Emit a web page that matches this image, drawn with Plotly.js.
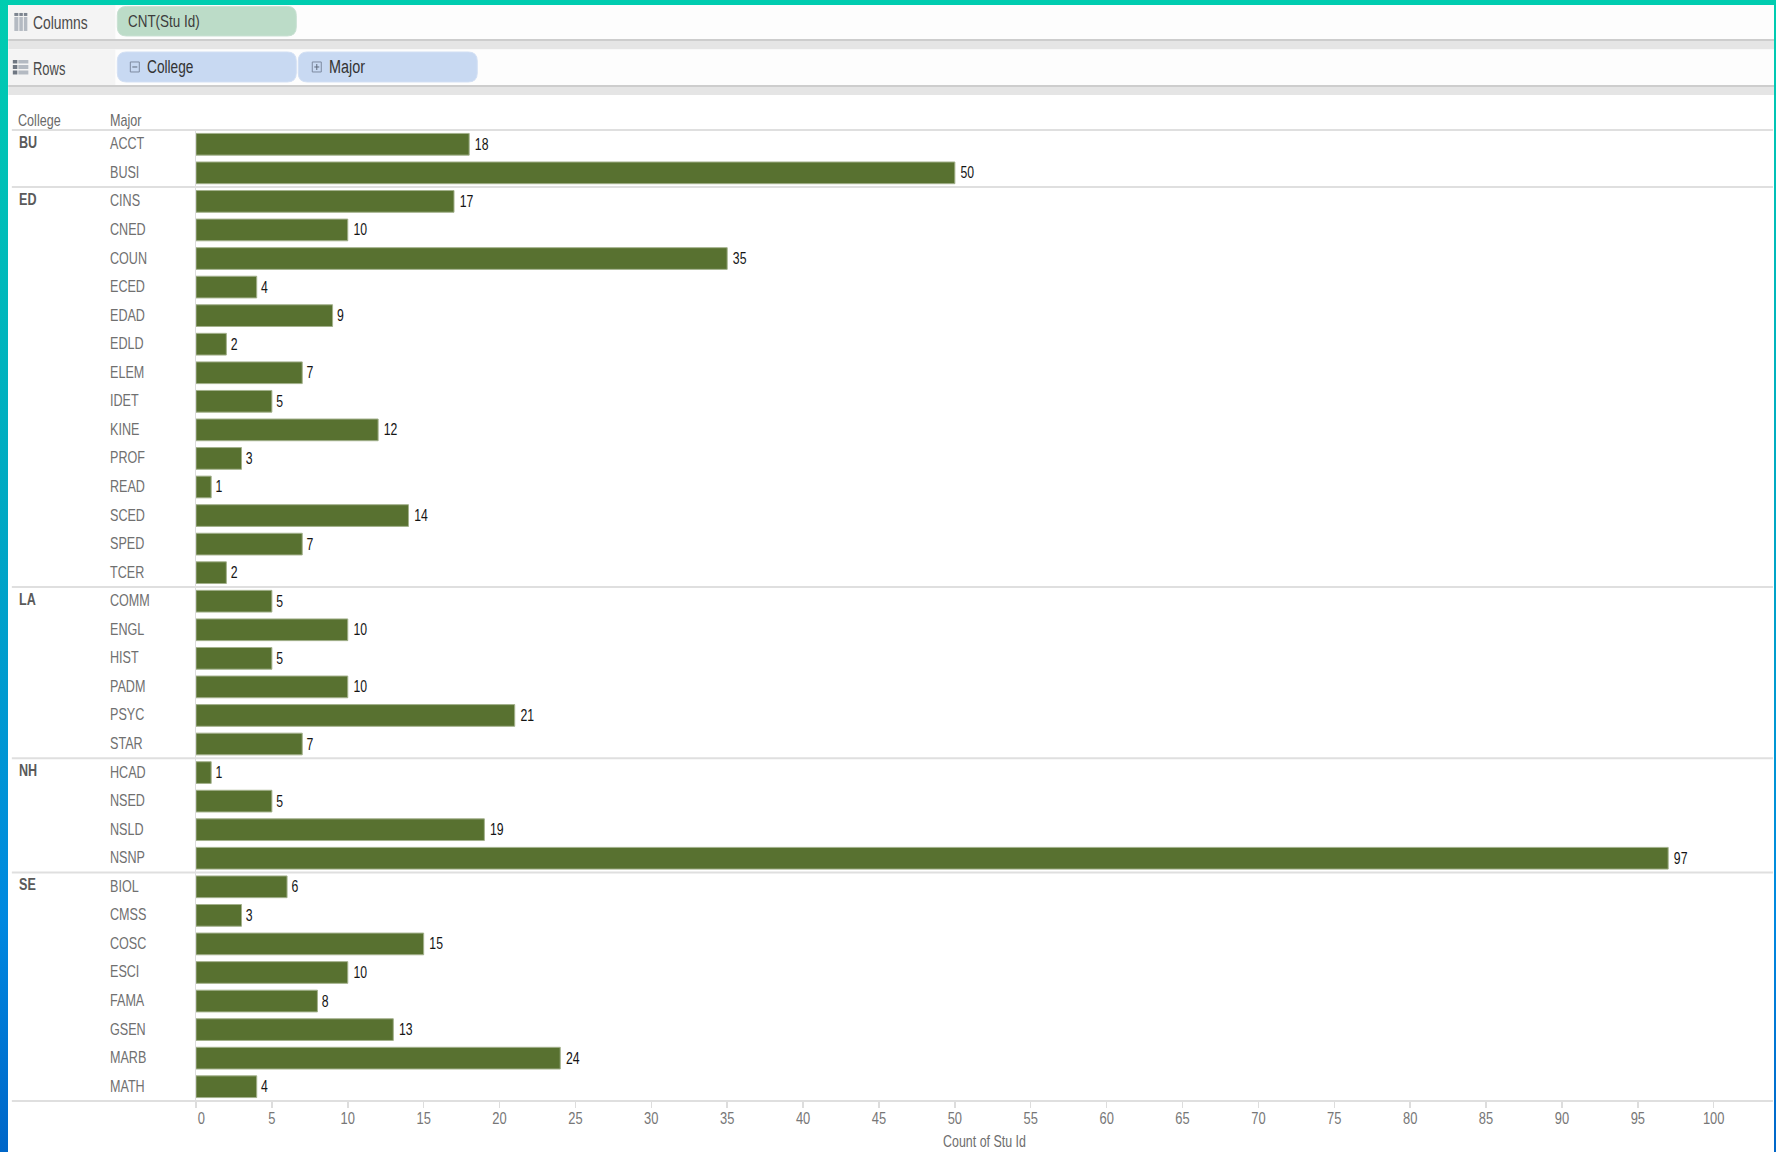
<!DOCTYPE html>
<html><head><meta charset="utf-8">
<script src="https://cdn.plot.ly/plotly-3.0.1.min.js"></script>
<style>
html,body{margin:0;padding:0;width:1776px;height:1152px;overflow:hidden;background:linear-gradient(180deg,#00cdb0 0%,#00a8c4 45%,#0088e0 80%,#0066c8 100%);}
#chart{position:absolute;left:8px;top:5px;width:1766px;height:1147px;}
</style></head><body><div id="chart"></div>
<script>
const collegeNames = ['BU','ED','LA','NH','SE'];
const collegeSizes = [2,14,6,4,8];
const majors = ['ACCT','BUSI','CINS','CNED','COUN','ECED','EDAD','EDLD','ELEM','IDET','KINE','PROF','READ','SCED','SPED','TCER','COMM','ENGL','HIST','PADM','PSYC','STAR','HCAD','NSED','NSLD','NSNP','BIOL','CMSS','COSC','ESCI','FAMA','GSEN','MARB','MATH'];
const counts = [18,50,17,10,35,4,9,2,7,5,12,3,1,14,7,2,5,10,5,10,21,7,1,5,19,97,6,3,15,10,8,13,24,4];
const xTicks = [0,5,10,15,20,25,30,35,40,45,50,55,60,65,70,75,80,85,90,95,100];

const FONT = '"Liberation Sans",Arial,sans-serif';
const OX = 8, OY = 5, W = 1766, H = 1147;
const L = 195.7, R = 1773, T = 130, B = 1100.7, PXU = 15.18;
const fx = p => (p - L) / (R - L);
const fy = p => (B - p) / (B - T);
function rect(x0,y0,x1,y1,fill){return {type:'rect',xref:'paper',yref:'paper',x0:fx(x0),x1:fx(x1),y0:fy(y0),y1:fy(y1),fillcolor:fill,line:{width:0},layer:'below'};}
function pill(x0,y0,x1,y1,r,fill,stroke){
  const P=(x,y)=>fx(x)+','+fy(y);
  return {type:'path',xref:'paper',yref:'paper',layer:'below',fillcolor:fill,line:{color:stroke,width:1},
    path:'M '+P(x0+r,y0)+' L '+P(x1-r,y0)+' Q '+P(x1,y0)+' '+P(x1,y0+r)+' L '+P(x1,y1-r)+' Q '+P(x1,y1)+' '+P(x1-r,y1)+' L '+P(x0+r,y1)+' Q '+P(x0,y1)+' '+P(x0,y1-r)+' L '+P(x0,y0+r)+' Q '+P(x0,y0)+' '+P(x0+r,y0)+' Z'};
}
function label(text,x,y,size,color){return {text:text,xref:'paper',yref:'paper',x:fx(x),y:fy(y),xanchor:'left',align:'left',yanchor:'middle',showarrow:false,font:{family:FONT,size:size,color:color}};}
function hline(yref,yv){return {type:'line',xref:'paper',yref:yref,x0:fx(11.5),x1:1,y0:yv,y1:yv,line:{color:'#dfdfdf',width:2},layer:'above'};}

const shapes = [
  rect(8,39,1774,49.5,'#e5e5e5'), rect(8,39,1774,41,'#cdcdcd'),
  rect(8,85,1774,95,'#e5e5e5'), rect(8,85,1774,87,'#cdcdcd'),
  rect(8,5,1774,39,'#fdfdfd'), rect(8,49.5,1774,85,'#fdfdfd'),
  rect(8,5,115,39,'#f4f4f4'), rect(8,49.5,115,85,'#f4f4f4'),
  pill(117,6.5,296,36,9,'#bcdcc8','#c8e0d2'),
  pill(117,52,296,82,9,'#c8d9f2','#d3e0f4'),
  pill(298,52,477,82,9,'#c8d9f2','#d3e0f4'),
  rect(14,13,18,16,'#7d8590'),rect(19,13,22.5,16,'#7d8590'),rect(23.5,13,27,16,'#7d8590'),
  rect(14,17,18,31,'#b4bac2'),rect(19,17,22.5,31,'#b4bac2'),rect(23.5,17,27,31,'#b4bac2'),
  rect(12.5,60,17,63.5,'#6f7782'),rect(12.5,65,17,69,'#6f7782'),rect(12.5,70.5,17,74.5,'#6f7782'),
  rect(18,60,28,63.5,'#b4bac2'),rect(18,65,28,69,'#b4bac2'),rect(18,70.5,28,74.5,'#b4bac2'),
  Object.assign(rect(130,62,139,72,'rgba(0,0,0,0)'),{line:{color:'#7d8aa0',width:1}}),
  rect(132,66.5,137,67.5,'#5f6a7c'),
  Object.assign(rect(312,62,321,72,'rgba(0,0,0,0)'),{line:{color:'#7d8aa0',width:1}}),
  rect(314,66.5,319,67.5,'#5f6a7c'),rect(316,64,317,70,'#5f6a7c'),
  hline('paper',1), hline('paper',0)
];

const annotations = [
  label('Columns',31,23,18,'#4a4a4a'),
  label('Rows',31,69,18,'#4a4a4a'),
  label('CNT(Stu Id)',126,22,17,'#3c3c3c'),
  label('College',145,67.5,18,'#333333'),
  label('Major',327,67.5,18,'#333333'),
  label('College',16,121,17,'#6a6a6a'),
  label('Major',108,121,17,'#6a6a6a')
];
majors.forEach(m=>annotations.push({text:m,xref:'paper',yref:'y',x:fx(108),y:m,xanchor:'left',align:'left',yanchor:'middle',yshift:0.5,showarrow:false,font:{family:FONT,size:17,color:'#707070'}}));
let start=0;
collegeNames.forEach((c,i)=>{
  annotations.push({text:'<b>'+c+'</b>',xref:'paper',yref:'y',x:fx(17),y:majors[start],xanchor:'left',align:'left',yanchor:'middle',yshift:2,showarrow:false,font:{family:FONT,size:17,color:'#5a5a5a'}});
  if(i>0) shapes.push(hline('y',start-0.5));
  start+=collegeSizes[i];
});

const trace = {type:'bar',orientation:'h',y:majors,x:counts,
  marker:{color:'#587130',line:{color:'#a3b18c',width:1}},width:0.76,
  text:counts.map(String),textposition:'outside',cliponaxis:false,
  textfont:{family:FONT,size:17,color:'#151515'},hoverinfo:'x+y'};

const layout = {
  width:W,height:H,autosize:false,showlegend:false,
  paper_bgcolor:'#ffffff',plot_bgcolor:'rgba(0,0,0,0)',
  margin:{l:L-OX,r:OX+W-R,t:T-OY,b:OY+H-B,pad:0,autoexpand:false},
  xaxis:{range:[0,(R-L)/PXU],tickmode:'array',tickvals:xTicks,
    ticktext:xTicks.map(v=>v===0?'\u00a0\u00a0\u00a00':String(v)),
    ticks:'outside',ticklen:6,tickwidth:1.5,tickcolor:'#dddddd',showgrid:false,zeroline:false,showline:false,
    ticklabelstandoff:-4,
    tickfont:{family:FONT,size:17,color:'#777777'},automargin:false,
    title:{text:'Count of Stu Id',standoff:7,font:{family:FONT,size:17,color:'#6e6e6e'}}},
  yaxis:{type:'category',categoryorder:'array',categoryarray:majors,range:[majors.length-0.5,-0.5],
    showticklabels:false,ticks:'',showgrid:false,zeroline:false,showline:true,linecolor:'#dddddd',linewidth:1.5,automargin:false},
  shapes:shapes,annotations:annotations
};
// The reference text is horizontally squeezed: condense each drawn label in place, keeping it real text.
function squeeze(t,s){
  const len = t.getComputedTextLength();
  t.setAttribute('textLength',(len*s).toFixed(2));
  t.setAttribute('lengthAdjust','spacingAndGlyphs');
}
function condense(gd){
  gd.querySelectorAll('.annotation-text').forEach(t=>{
    const txt=t.textContent, big=t.style.fontSize==='18px';
    let s=0.74;
    if(txt==='Columns') s=0.77;
    else if(txt==='Rows') s=0.72;
    else if(txt==='CNT(Stu Id)') s=0.79;
    else if(txt==='College'&&big) s=0.76;
    else if(txt==='Major'&&big) s=0.8;
    squeeze(t,s);
  });
  gd.querySelectorAll('.bartext').forEach(t=>squeeze(t,0.72));
  gd.querySelectorAll('.xtick text').forEach(t=>squeeze(t,0.76));
  gd.querySelectorAll('.g-xtitle text').forEach(t=>squeeze(t,0.73));
}
Plotly.newPlot('chart',[trace],layout,{displayModeBar:false,staticPlot:true}).then(condense);
</script></body></html>
